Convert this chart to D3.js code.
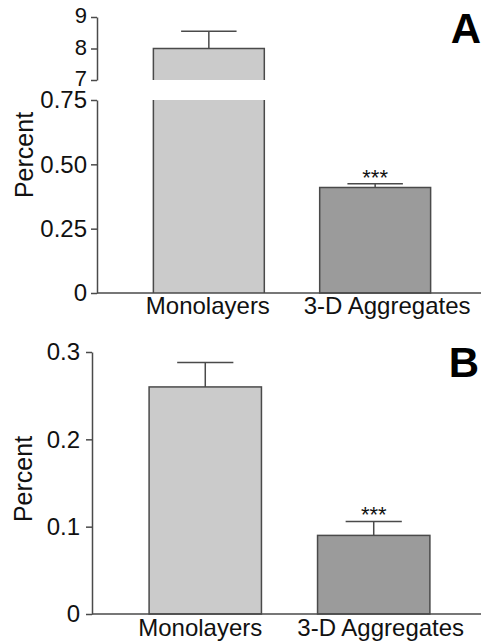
<!DOCTYPE html>
<meta charset="utf-8">
<script src="https://d3js.org/d3.v7.min.js"></script>
<style>
  body { margin: 0; background: #fff; }
  svg { display: block; font-family: 'Liberation Sans', Arial, sans-serif; }
  .tick text { fill: #111; }
</style>
<body>
<svg width="481" height="643"></svg>
</body>
<script>
// data
var categories = ["Monolayers", "3-D Aggregates"];

// panel A: percent, broken axis
var meansA = [8.0, 0.41];
var errA = [0.55, 0.015];
var sigA = ["", "***"];
var ticksAUpper = [7, 8, 9];
var ticksALower = [0, 0.25, 0.5, 0.75];

// panel B: percent
var meansB = [0.26, 0.09];
var errB = [0.028, 0.016];
var sigB = ["", "***"];
var ticksB = [0, 0.1, 0.2, 0.3];

var fills = ["#cbcbcb", "#9b9b9b"];
var ink = "#4a4a4a";

var svg = d3.select("svg");

function drawPanel(opt) {
  var g = svg.append("g");
  var x = d3.scaleBand().domain(categories).range([opt.axisX + 1, 486]).padding(0.333);

  var y = d3.scaleLinear().domain(opt.lowDomain).range([opt.y0, opt.yTop]);
  var yUp = opt.upDomain ? d3.scaleLinear().domain(opt.upDomain).range([opt.upBottom, opt.upTop]) : null;

  var data = categories.map(function(c, i) {
    return {cat: c, mean: opt.means[i], err: opt.errs[i], sig: opt.sig[i], fill: fills[i]};
  });

  // where a value sits, in the broken or plain axis
  function yPos(v) {
    if (yUp && v > opt.lowDomain[1]) return yUp(v);
    return y(v);
  }

  data.forEach(function(d) {
    var x0 = x(d.cat), w = x.bandwidth();
    if (yUp && d.mean > opt.lowDomain[1]) {
      // lower piece
      g.append("rect").attr("x", x0).attr("y", opt.yTop).attr("width", w)
        .attr("height", opt.y0 - opt.yTop).attr("fill", d.fill);
      g.append("path").attr("d", "M" + x0 + "," + opt.yTop + "V" + opt.y0 + "M" + (x0 + w) + "," + opt.yTop + "V" + opt.y0)
        .attr("stroke", ink).attr("stroke-width", 1.5).attr("fill", "none");
      // upper piece
      var top = yUp(d.mean);
      g.append("rect").attr("x", x0).attr("y", top).attr("width", w)
        .attr("height", opt.upBottom - top).attr("fill", d.fill);
      g.append("path").attr("d", "M" + x0 + "," + opt.upBottom + "V" + top + "H" + (x0 + w) + "V" + opt.upBottom)
        .attr("stroke", ink).attr("stroke-width", 1.5).attr("fill", "none");
    } else {
      g.append("rect").attr("x", x0).attr("y", y(d.mean)).attr("width", w)
        .attr("height", opt.y0 - y(d.mean)).attr("fill", d.fill)
        .attr("stroke", ink).attr("stroke-width", 1.5);
    }
    // error bar (upper only)
    var cx = x0 + w / 2;
    var yt = yPos(d.mean), ye = yPos(d.mean + d.err);
    g.append("path")
      .attr("d", "M" + cx + "," + yt + "V" + ye + "M" + (cx - w / 4) + "," + ye + "H" + (cx + w / 4))
      .attr("stroke", ink).attr("stroke-width", 1.5).attr("fill", "none");
    if (d.sig) {
      g.append("text").attr("x", cx).attr("y", ye + 1)
        .attr("text-anchor", "middle").attr("font-size", 22).attr("fill", "#111")
        .text(d.sig);
    }
  });

  // y axis (lower)
  g.append("g").attr("transform", "translate(" + opt.axisX + ",0)")
    .call(d3.axisLeft(y).tickValues(opt.lowTicks).tickSize(6).tickSizeOuter(0).tickPadding(opt.pad).tickFormat(opt.fmt))
    .selectAll(".tick text").attr("font-size", 24);
  if (yUp) {
    g.append("g").attr("transform", "translate(" + opt.axisX + ",0)")
      .call(d3.axisLeft(yUp).tickValues(opt.upTicks).tickSize(6).tickSizeOuter(0).tickPadding(opt.pad).tickFormat(d3.format("d")))
      .selectAll(".tick text").attr("font-size", 22).attr("dy", "0.25em");
  }
  g.selectAll(".domain, .tick line").attr("stroke", ink).attr("stroke-width", 1.5);
  g.selectAll(".tick text").attr("font-family", "'Liberation Sans', Arial, sans-serif");

  // x axis line
  g.append("line").attr("x1", opt.axisX).attr("x2", 481).attr("y1", opt.y0).attr("y2", opt.y0)
    .attr("stroke", ink).attr("stroke-width", 1.5);

  // category labels
  g.selectAll(".cat").data(categories).enter().append("text")
    .attr("x", function(d, i) { return x(d) + x.bandwidth() / 2 + opt.labelShift[i]; })
    .attr("y", opt.y0 + opt.labelGap)
    .attr("text-anchor", "middle").attr("font-size", 24).attr("fill", "#111")
    .text(function(d) { return d; });

  // y title
  g.append("text")
    .attr("transform", "translate(" + opt.titleX + "," + opt.titleY + ") rotate(-90)")
    .attr("text-anchor", "middle").attr("font-size", 25).attr("fill", "#111")
    .text("Percent");

  // panel letter
  g.append("text").attr("x", opt.letterX).attr("y", opt.letterY)
    .attr("text-anchor", "end").attr("font-size", 42).attr("font-weight", "bold").attr("fill", "#000")
    .text(opt.letter);
}

var fmtA = function(d) { return d === 0 ? "0" : d3.format(".2f")(d); };
var fmtB = function(d) { return d === 0 ? "0" : d3.format(".1f")(d); };

drawPanel({
  means: meansA, errs: errA, sig: sigA,
  axisX: 97, y0: 293, yTop: 100, lowDomain: [0, 0.75], lowTicks: ticksALower,
  upDomain: [7, 9], upTop: 17, upBottom: 80, upTicks: ticksAUpper,
  fmt: fmtA, pad: 4, labelShift: [-1, 12], labelGap: 21,
  titleX: 33, titleY: 155, letter: "A", letterX: 481, letterY: 43
});

drawPanel({
  means: meansB, errs: errB, sig: sigB,
  axisX: 92, y0: 614, yTop: 352, lowDomain: [0, 0.3], lowTicks: ticksB,
  fmt: fmtB, pad: 6, labelShift: [-5, 7], labelGap: 22,
  titleX: 32, titleY: 479, letter: "B", letterX: 479, letterY: 377
});
</script>
